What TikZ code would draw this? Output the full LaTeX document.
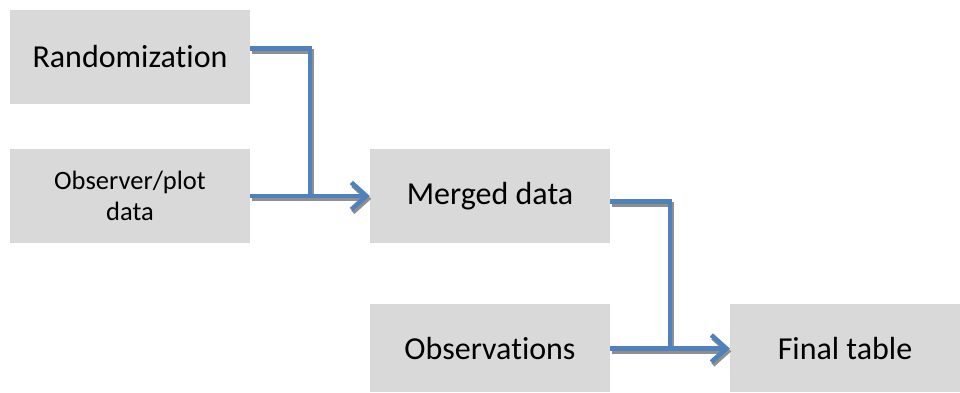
\documentclass[tikz,border=0pt]{standalone}
\usepackage{fontspec}
\setmainfont{Carlito}[Ligatures=NoCommon]
\usetikzlibrary{arrows.meta}
\definecolor{boxgrey}{HTML}{D9D9D9}
\definecolor{linkblue}{HTML}{4F81BD}
\definecolor{shadowgrey}{HTML}{8F8F8F}
\tikzset{
  stagebox/.style={fill=boxgrey, draw=none, inner sep=0pt,
    minimum width=240pt, minimum height=94pt, align=center,
    font=\fontsize{32}{36}\selectfont},
  lowbox/.style={stagebox, minimum height=88pt},
  smalltext/.style={font=\fontsize{26.5}{31.5}\selectfont},
  barb/.style={-{Straight Barb[length=15pt,width=27pt,line width=4.6pt]}},
  link/.style={line width=4.6pt, draw=linkblue, line join=miter,
    preaction={draw=shadowgrey, line width=4.6pt, transform canvas={shift={(1.5,2.8)}}}},
  linkarrow/.style={line width=4.6pt, draw=linkblue, barb,
    preaction={draw=shadowgrey, line width=4.6pt, barb, transform canvas={shift={(1.5,2.8)}}}},
}
\begin{document}
\begin{tikzpicture}[x=1pt,y=-1pt]
  \useasboundingbox (0,0) rectangle (960,392);
  % stages of the data pipeline
  \node[stagebox] (rand)   at (130,56.5) {Randomization};
  \node[stagebox, smalltext] (obsv) at (130,196) {Observer/plot\\data};
  \node[stagebox] (merged) at (490,196) {Merged data};
  \node[lowbox] (obs)    at (490,348) {Observations};
  \node[lowbox, minimum width=230pt] (final) at (845,348) {Final table};
  % junction points where the side feeds join the main flow
  \coordinate (j1) at (310,196);
  \coordinate (j2) at (670,348.5);
  % randomization joins the observer/plot data flow
  \draw[link] ([yshift=8pt]rand.east) -| (j1);
  \draw[linkarrow] (obsv.east) -- (merged.west);
  % merged data joins the observations flow
  \draw[link] ([yshift=-5.5pt]merged.east) -| (j2);
  \draw[linkarrow] ([yshift=-0.5pt]obs.east) -- ([yshift=-0.5pt]final.west);
\end{tikzpicture}
\end{document}
